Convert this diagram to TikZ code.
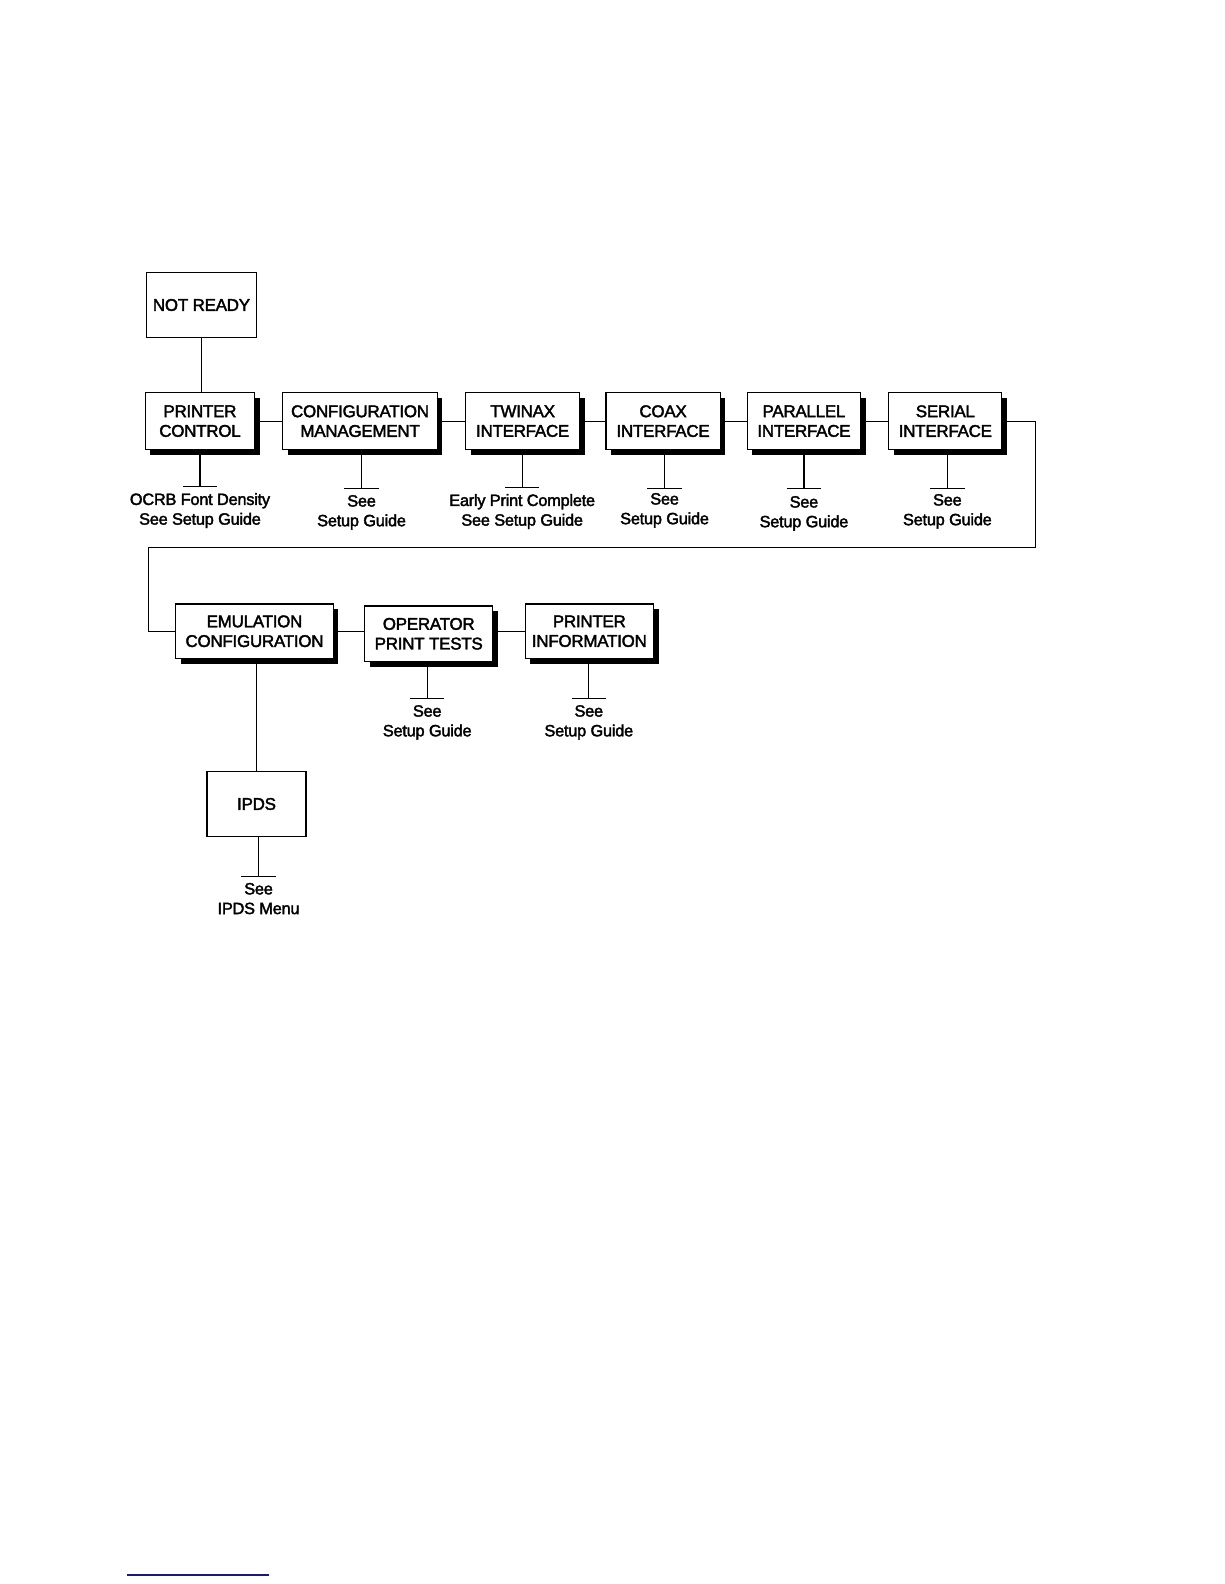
\documentclass[tikz,border=0pt]{standalone}
\usepackage{fontspec}
\setmainfont{Liberation Sans}
\newfontfamily\boxfont{Liberation Sans}[FakeBold=2.2,LetterSpace=-1.5]
\usetikzlibrary{positioning,shadows}
\definecolor{rulenavy}{RGB}{24,24,128}

\begin{document}
\begin{tikzpicture}[x=1pt,y=-1pt,
    menubox/.style={draw,line width=1.1pt,fill=white,align=center,inner sep=0pt,
        font=\boxfont\fontsize{16.8}{19.5}\selectfont},
    shadowbox/.style={menubox,drop shadow={shadow xshift=5pt,shadow yshift=-5pt,fill=black,opacity=1}},
    note/.style={align=center,inner sep=0pt,font=\boxfont\fontsize{16.2}{19.5}\selectfont},
    link/.style={draw,line width=1.1pt}]
		\useasboundingbox (0,0) rectangle (1211.9,1568.3);

		% top row
		\node[menubox,minimum width=109pt,minimum height=64pt] (notready) at (199.5,302) {NOT READY};
		\node[shadowbox,minimum width=108pt,minimum height=56pt] (pc) at (198,417) {PRINTER\\CONTROL};
		\node[shadowbox,minimum width=153pt,minimum height=56pt] (cm) at (356.5,417) {CONFIGURATION\\MANAGEMENT};
		\node[shadowbox,minimum width=113pt,minimum height=56pt] (twinax) at (517.5,417) {TWINAX\\INTERFACE};
		\node[shadowbox,minimum width=113pt,minimum height=56pt] (coax) at (656.5,417) {COAX\\INTERFACE};
		\node[shadowbox,minimum width=112pt,minimum height=56pt] (parallel) at (796,417) {PARALLEL\\INTERFACE};
		\node[shadowbox,minimum width=112pt,minimum height=56pt] (serial) at (936,417) {SERIAL\\INTERFACE};

		% bottom row
		\node[shadowbox,minimum width=156pt,minimum height=54pt] (emu) at (252,625) {EMULATION\\CONFIGURATION};
		\node[shadowbox,minimum width=127pt,minimum height=55pt] (optests) at (424.5,627.5) {OPERATOR\\PRINT TESTS};
		\node[shadowbox,minimum width=127pt,minimum height=54pt] (prinfo) at (583.5,625) {PRINTER\\INFORMATION};
		\node[menubox,minimum width=98pt,minimum height=64pt] (ipds) at (254,796) {IPDS};

		% bars under the boxes
		\coordinate (pcbar) at (198,482);
		\coordinate (cmbar) at (358,484);
		\coordinate (twinaxbar) at (517,483);
		\coordinate (coaxbar) at (658,484);
		\coordinate (parallelbar) at (796,484);
		\coordinate (serialbar) at (938,484);
		\coordinate (optestsbar) at (423,692);
		\coordinate (prinfobar) at (583,692);
		\coordinate (ipdsbar) at (256,868);

		\node[note,below=6pt of pcbar] (pcnote) {OCRB Font Density\\See Setup Guide};
		\node[note,below=6pt of cmbar] (cmnote) {See\\Setup Guide};
		\node[note,below=6pt of twinaxbar] (twinaxnote) {Early Print Complete\\See Setup Guide};
		\node[note,below=4pt of coaxbar] (coaxnote) {See\\Setup Guide};
		\node[note,below=7pt of parallelbar] (parallelnote) {See\\Setup Guide};
		\node[note,below=5pt of serialbar] (serialnote) {See\\Setup Guide};
		\node[note,below=6pt of optestsbar] (optestsnote) {See\\Setup Guide};
		\node[note,below=6pt of prinfobar] (prinfonote) {See\\Setup Guide};
		\node[note,below=6pt of ipdsbar] (ipdsnote) {See\\IPDS Menu};

		\foreach \b in {pc,cm,twinax,coax,parallel,serial,optests,prinfo,ipds}{
		    \draw[link] (\b bar |- \b.south) -- (\b bar);
		    \draw[link] ([xshift=-17pt]\b bar) -- ([xshift=17pt]\b bar);
		}

		% connectors
		\draw[link] (notready.south) -- (notready.south |- pc.north);
		\draw[link] (pc) -- (cm);
		\draw[link] (cm) -- (twinax);
		\draw[link] (twinax) -- (coax);
		\draw[link] (coax) -- (parallel);
		\draw[link] (parallel) -- (serial);
		\coordinate (wrapr) at (1025,542);
		\coordinate (wrapl) at (147,542);
		\draw[link] (serial.east) -| (wrapr) -- (wrapl) |- (emu.west);
		\draw[link] (emu.east) -- (emu.east -| optests.west);
		\draw[link] (optests.east |- prinfo.west) -- (prinfo.west);
		\draw[link] (ipds.north) -- (ipds.north |- emu.south);

		% page rule
		\coordinate (rulea) at (125.7,1559.4);
		\coordinate (ruleb) at (266.3,1559.4);
		\draw[rulenavy,line width=1.5pt] (rulea) -- (ruleb);
\end{tikzpicture}
\end{document}
